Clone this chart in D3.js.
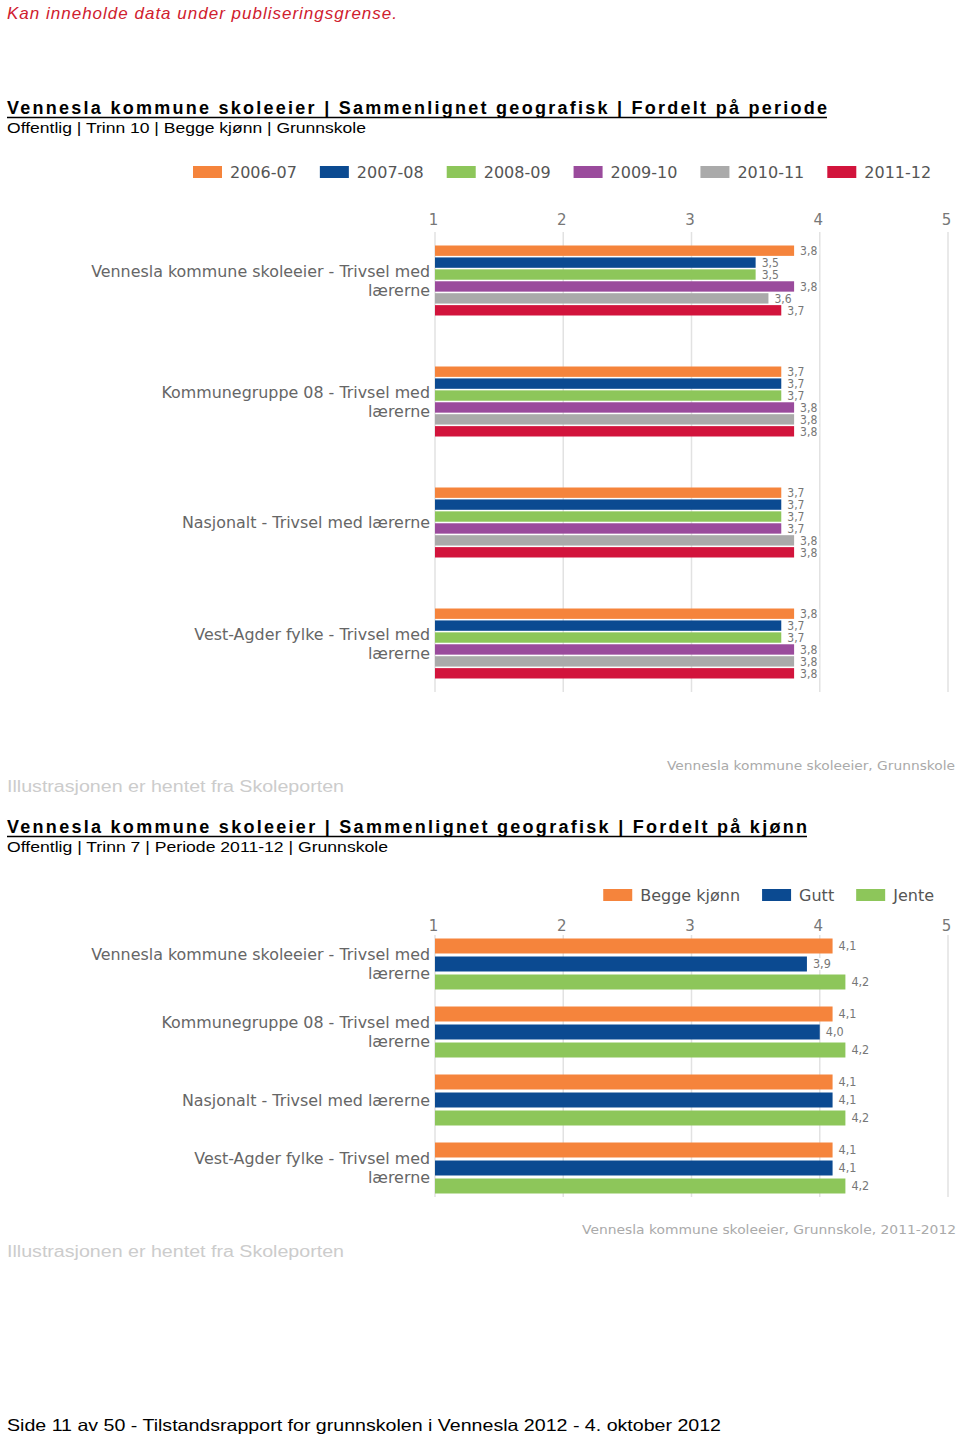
<!DOCTYPE html>
<html><head><meta charset="utf-8">
<script src="https://cdn.jsdelivr.net/npm/d3@7"></script>
<style>
html,body{margin:0;padding:0;background:#fff;}
svg{display:block;}
</style></head>
<body>
<svg id="page" width="960" height="1438"></svg>
<script>
// ---------- DATA ----------
const categories = [
  ["Vennesla kommune skoleeier - Trivsel med", "lærerne"],
  ["Kommunegruppe 08 - Trivsel med", "lærerne"],
  ["Nasjonalt - Trivsel med lærerne"],
  ["Vest-Agder fylke - Trivsel med", "lærerne"]
];
const periods = ["2006-07", "2007-08", "2008-09", "2009-10", "2010-11", "2011-12"];
const v2006_07 = [3.8, 3.7, 3.7, 3.8];
const v2007_08 = [3.5, 3.7, 3.7, 3.7];
const v2008_09 = [3.5, 3.7, 3.7, 3.7];
const v2009_10 = [3.8, 3.8, 3.7, 3.8];
const v2010_11 = [3.6, 3.8, 3.8, 3.8];
const v2011_12 = [3.7, 3.8, 3.8, 3.8];

const genders = ["Begge kjønn", "Gutt", "Jente"];
const vBegge = [4.1, 4.1, 4.1, 4.1];
const vGutt  = [3.9, 4.0, 4.1, 4.1];
const vJente = [4.2, 4.2, 4.2, 4.2];

const xTicks = [1, 2, 3, 4, 5];

const periodColors = ["#F5843C", "#0B4A91", "#8DC65A", "#9A4B9C", "#AAAAAA", "#D2143C"];
const genderColors = ["#F5843C", "#0B4A91", "#8DC65A"];

// ---------- HELPERS ----------
const svg = d3.select("#page");
const fmt = v => d3.format(".1f")(v).replace(".", ",");

function pdfText(x, y, str, opts) {
  const t = svg.append("text")
    .attr("x", x).attr("y", y)
    .attr("font-family", opts.family || "'Liberation Sans', Arial, sans-serif")
    .attr("font-size", opts.size)
    .attr("font-weight", opts.weight || "normal")
    .attr("font-style", opts.style || "normal")
    .attr("fill", opts.fill || "#000")
    .attr("text-anchor", opts.anchor || "start")
    .text(str);
  if (opts.width) t.attr("textLength", opts.width).attr("lengthAdjust", opts.adjust || "spacingAndGlyphs");
  if (opts.underline) {
    svg.append("line").attr("x1", x).attr("x2", x + opts.width)
      .attr("y1", y + 3.5).attr("y2", y + 3.5)
      .attr("stroke", opts.fill || "#000").attr("stroke-width", 1.6);
  }
  return t;
}

function drawChart(cfg) {
  const g = svg.append("g");
  const x = d3.scaleLinear().domain([1, 5]).range([435, 948]);
  const y0 = d3.scaleBand().domain(d3.range(categories.length))
    .range([cfg.top, cfg.bottom]).paddingInner(cfg.groupPad).paddingOuter(cfg.groupPad / 2);
  const y1 = d3.scaleBand().domain(d3.range(cfg.series.length))
    .range([0, y0.bandwidth()]).paddingInner(cfg.barPad);

  // grid lines
  g.append("g").selectAll("line").data(xTicks).join("line")
    .attr("x1", d => x(d)).attr("x2", d => x(d))
    .attr("y1", cfg.gridTop).attr("y2", cfg.gridBottom)
    .attr("stroke", "#e2e2e2").attr("stroke-width", 1.5);

  // top axis labels
  const axis = d3.axisTop(x).tickValues(xTicks).tickSize(0).tickPadding(0).tickFormat(d3.format("d"));
  const ag = g.append("g").attr("transform", `translate(-2,${cfg.tickY})`).call(axis);
  ag.select(".domain").remove();
  ag.selectAll("text").attr("font-family", "'DejaVu Sans', sans-serif")
    .attr("font-size", 15).attr("fill", "#777").attr("dy", "0.35em");

  // category labels
  categories.forEach((lines, i) => {
    const cy = y0(i) + y0.bandwidth() / 2;
    const n = lines.length;
    lines.forEach((ln, j) => {
      g.append("text")
        .attr("x", 430).attr("y", cy + (j - (n - 1) / 2) * 19)
        .attr("dy", "0.35em").attr("text-anchor", "end")
        .attr("font-family", "'DejaVu Sans', sans-serif").attr("font-size", 15.9)
        .attr("fill", "#666").text(ln);
    });
  });

  // bars
  const rows = [];
  cfg.series.forEach((vals, s) => vals.forEach((v, c) => rows.push({ s, c, v })));
  g.append("g").selectAll("rect").data(rows).join("rect")
    .attr("x", x(1))
    .attr("y", d => y0(d.c) + y1(d.s))
    .attr("width", d => x(d.v) - x(1))
    .attr("height", y1.bandwidth())
    .attr("fill", d => cfg.colors[d.s]);

  // data labels with white boxes
  const lg = g.append("g");
  rows.forEach(d => {
    const lx = x(d.v) + 5;
    const ly = y0(d.c) + y1(d.s) + y1.bandwidth() / 2;
    const t = lg.append("text").attr("x", lx + 1).attr("y", ly).attr("dy", "0.35em")
      .attr("font-family", "'DejaVu Sans Condensed', 'DejaVu Sans', sans-serif")
      .attr("font-stretch", "condensed")
      .attr("font-size", cfg.labelSize).attr("fill", "#777").text(fmt(d.v));
    const w = t.node().getComputedTextLength();
    lg.insert("rect", "text").attr("x", lx - 1).attr("y", ly - 6)
      .attr("width", w + 4).attr("height", 12).attr("rx", 2).attr("fill", "#fff");
  });

  // legend
  const leg = g.append("g");
  let items = [];
  cfg.legend.forEach((name, i) => {
    const it = leg.append("g");
    it.append("rect").attr("x", 0).attr("y", -6).attr("width", 29).attr("height", 12)
      .attr("fill", cfg.colors[i]);
    const t = it.append("text").attr("x", 37).attr("y", 0).attr("dy", "0.35em")
      .attr("font-family", "'DejaVu Sans', sans-serif").attr("font-size", 16)
      .attr("fill", "#555").text(name);
    items.push({ it, w: 37 + t.node().getComputedTextLength() });
  });
  const gap = cfg.legendGap;
  const total = d3.sum(items, d => d.w) + gap * (items.length - 1);
  let cx = cfg.legendRight ? cfg.legendRight - total : cfg.legendLeft;
  items.forEach(d => { d.it.attr("transform", `translate(${cx},${cfg.legendY})`); cx += d.w + gap; });
}

// ---------- PAGE TEXT ----------
pdfText(7, 19, "Kan inneholde data under publiseringsgrense.",
  { size: 17, style: "italic", fill: "#D0202E", width: 390, adjust: "spacing" });

pdfText(7, 114, "Vennesla kommune skoleeier | Sammenlignet geografisk | Fordelt på periode",
  { size: 18, weight: "bold", width: 820, adjust: "spacing", underline: true });
pdfText(7, 133, "Offentlig | Trinn 10 | Begge kjønn | Grunnskole",
  { size: 14.5, width: 359 });

drawChart({
  series: [v2006_07, v2007_08, v2008_09, v2009_10, v2010_11, v2011_12],
  colors: periodColors, legend: periods,
  top: 220, bottom: 704, groupPad: 0.4215, barPad: 0.13,
  gridTop: 232, gridBottom: 692, tickY: 220, labelSize: 12,
  legendLeft: 193, legendY: 172, legendGap: 23
});

pdfText(955, 770, "Vennesla kommune skoleeier, Grunnskole",
  { size: 13, family: "'DejaVu Sans', sans-serif", fill: "#aaa", anchor: "end", width: 288 });
pdfText(7, 792, "Illustrasjonen er hentet fra Skoleporten",
  { size: 16, fill: "#ccc", width: 337 });

pdfText(7, 833, "Vennesla kommune skoleeier | Sammenlignet geografisk | Fordelt på kjønn",
  { size: 18, weight: "bold", width: 800, adjust: "spacing", underline: true });
pdfText(7, 852, "Offentlig | Trinn 7 | Periode 2011-12 | Grunnskole",
  { size: 14.5, width: 381 });

drawChart({
  series: [vBegge, vGutt, vJente],
  colors: genderColors, legend: genders,
  top: 930, bottom: 1202, groupPad: 0.25, barPad: 0.167,
  gridTop: 935, gridBottom: 1197, tickY: 926, labelSize: 12.5,
  legendRight: 934, legendY: 895, legendGap: 22
});

pdfText(956, 1234, "Vennesla kommune skoleeier, Grunnskole, 2011-2012",
  { size: 13, family: "'DejaVu Sans', sans-serif", fill: "#aaa", anchor: "end", width: 374 });
pdfText(7, 1257, "Illustrasjonen er hentet fra Skoleporten",
  { size: 16, fill: "#ccc", width: 337 });

pdfText(7, 1431, "Side 11 av 50 - Tilstandsrapport for grunnskolen i Vennesla 2012 - 4. oktober 2012",
  { size: 16.5, width: 714 });
</script>
</body></html>
